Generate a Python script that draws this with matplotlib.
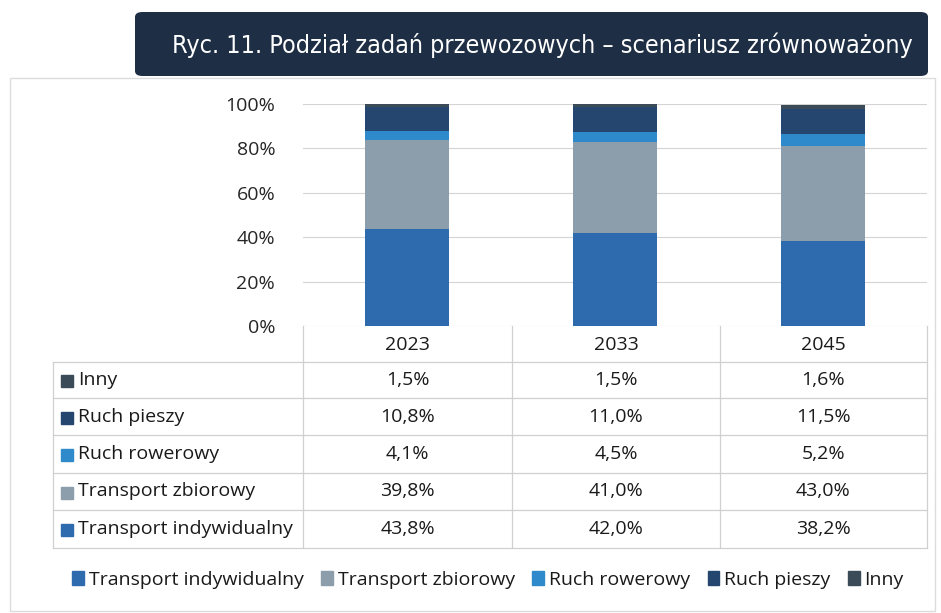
import matplotlib.pyplot as plt
from matplotlib.patches import FancyBboxPatch, Rectangle

plt.rcParams['font.family'] = ['Open Sans', 'DejaVu Sans']

years = ['2023', '2033', '2045']
series = ['Transport indywidualny', 'Transport zbiorowy', 'Ruch rowerowy', 'Ruch pieszy', 'Inny']
indywidualny = [43.8, 42.0, 38.2]
zbiorowy = [39.8, 41.0, 43.0]
rowerowy = [4.1, 4.5, 5.2]
pieszy = [10.8, 11.0, 11.5]
inny = [1.5, 1.5, 1.6]
values = [indywidualny, zbiorowy, rowerowy, pieszy, inny]
colors = ['#2e6aae', '#8c9eab', '#2f8acb', '#24466f', '#3c4b58']
title = 'Ryc. 11. Podział zadań przewozowych – scenariusz zrównoważony'

W, H = 941, 613
fig = plt.figure(figsize=(W / 100, H / 100), dpi=100)
fs = 14


def fx(x):
    return x / W


def fy(y):
    return 1 - y / H


# outer frame
fig.patches.append(Rectangle((fx(10), fy(611)), fx(925), fy(78) - fy(611), transform=fig.transFigure,
                             fill=False, ec='#dcdcdc', lw=1))
# title box
fig.patches.append(FancyBboxPatch((fx(135), fy(76)), fx(793), fy(12) - fy(76),
                                  boxstyle='round,pad=0,rounding_size=0.008',
                                  transform=fig.transFigure, fc='#1e2e44', ec='none'))
fig.text(fx(542), fy(45), title, color='white', fontsize=18, ha='center', va='center',
         family=['DejaVu Sans'], fontstretch='condensed')

# bar chart
ax = fig.add_axes([fx(303), fy(326), fx(927 - 303), fy(104) - fy(326)])
x = range(len(years))
bottom = [0, 0, 0]
for vals, c in zip(values, colors):
    ax.bar(x, vals, width=0.405, bottom=bottom, color=c, zorder=2)
    bottom = [b + v for b, v in zip(bottom, vals)]
ax.set_xlim(-0.5, 2.5)
ax.set_ylim(0, 100)
ax.set_yticks(range(0, 101, 20))
ax.set_yticklabels([f'{v}%' for v in range(0, 101, 20)], fontsize=fs, color='#262626')
ax.set_xticks([])
ax.tick_params(axis='y', length=0, pad=20)
ax.grid(axis='y', color='#d4d4d4', lw=0.8, zorder=0)
for s in ax.spines.values():
    s.set_visible(False)

# data table
tx = fig.add_axes([0, 0, 1, 1], facecolor='none')
tx.set_xlim(0, W)
tx.set_ylim(H, 0)
tx.axis('off')
col_x = [303, 512, 720, 927]
row_y = [326, 362, 398, 435, 473, 510, 548]
lc = '#d0d0d0'
for y in row_y[1:]:
    tx.plot([53, 927], [y, y], color=lc, lw=0.9)
tx.plot([53, 53], [row_y[1], row_y[-1]], color=lc, lw=0.9)
for xc in col_x:
    tx.plot([xc, xc], [row_y[0], row_y[-1]], color=lc, lw=0.9)
for i, yr in enumerate(years):
    tx.text((col_x[i] + col_x[i + 1]) / 2, (row_y[0] + row_y[1]) / 2 + 1, yr,
            ha='center', va='center', fontsize=fs, color='#1a1a1a')
order = list(range(len(series)))[::-1]
for r, si in enumerate(order):
    yc = (row_y[r + 1] + row_y[r + 2]) / 2
    tx.add_patch(Rectangle((61, yc - 5), 12, 12, color=colors[si]))
    tx.text(78, yc, series[si], ha='left', va='center', fontsize=fs, color='#1a1a1a')
    for i in range(len(years)):
        tx.text((col_x[i] + col_x[i + 1]) / 2, yc, f'{values[si][i]:.1f}%'.replace('.', ','),
                ha='center', va='center', fontsize=fs, color='#1a1a1a')

# legend
handles = [Rectangle((0, 0), 1, 1, color=c) for c in colors]
fig.legend(handles, series, loc='center', bbox_to_anchor=(fx(488), fy(580)), ncol=5,
           frameon=False, fontsize=fs, handlelength=0.6, handleheight=0.7,
           handletextpad=0.25, columnspacing=0.9, labelcolor='#1a1a1a')

fig.savefig('out.png', dpi=100, facecolor='white')
